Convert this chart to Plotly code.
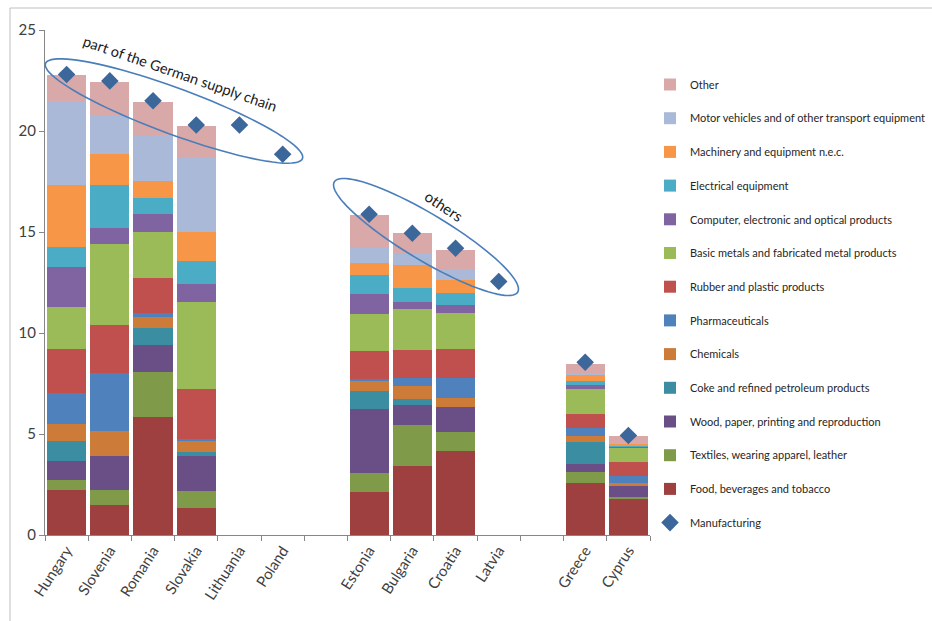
import numpy as np
import plotly.graph_objects as go

categories = ["Hungary", "Slovenia", "Romania", "Slovakia", "Lithuania", "Poland", " ",
              "Estonia", "Bulgaria", "Croatia", "Latvia", "  ", "Greece", "Cyprus"]

N = None
food      = [2.22, 1.47, 5.83, 1.35, N, N, N, 2.11, 3.44, 4.18, N, N, 2.59, 1.83]
textiles  = [0.50, 0.75, 2.26, 0.84, N, N, N, 0.94, 2.03, 0.94, N, N, 0.52, 0.07]
wood      = [0.92, 1.70, 1.32, 1.70, N, N, N, 3.18, 0.95, 1.21, N, N, 0.40, 0.51]
coke      = [1.02, 0.00, 0.85, 0.20, N, N, N, 0.89, 0.30, 0.00, N, N, 1.07, 0.00]
chemicals = [0.86, 1.24, 0.53, 0.57, N, N, N, 0.49, 0.66, 0.47, N, N, 0.30, 0.14]
pharma    = [1.50, 2.88, 0.21, 0.07, N, N, N, 0.10, 0.41, 0.98, N, N, 0.41, 0.35]
rubber    = [2.17, 2.35, 1.70, 2.52, N, N, N, 1.38, 1.37, 1.41, N, N, 0.72, 0.71]
metals    = [2.08, 4.04, 2.30, 4.30, N, N, N, 1.83, 2.03, 1.78, N, N, 1.22, 0.74]
computer  = [2.01, 0.79, 0.89, 0.89, N, N, N, 1.02, 0.36, 0.44, N, N, 0.18, 0.05]
electric  = [0.97, 2.11, 0.81, 1.10, N, N, N, 0.94, 0.70, 0.58, N, N, 0.23, 0.05]
machinery = [3.06, 1.53, 0.82, 1.46, N, N, N, 0.58, 1.11, 0.63, N, N, 0.26, 0.08]
motor     = [4.20, 1.86, 2.26, 3.68, N, N, N, 0.74, 0.57, 0.54, N, N, 0.12, 0.03]
other     = [1.25, 1.71, 1.68, 1.55, N, N, N, 1.64, 1.04, 0.96, N, N, 0.46, 0.33]
manufacturing = [22.8, 22.48, 21.5, 20.3, 20.3, 18.85, N, 15.88, 14.94, 14.2, 12.55, N, 8.55, 4.93]

series = [
    ("Food, beverages and tobacco", food, "#9E4040"),
    ("Textiles, wearing apparel, leather", textiles, "#7F9A48"),
    ("Wood, paper, printing and reproduction", wood, "#6A4F86"),
    ("Coke and refined petroleum products", coke, "#3B8DA2"),
    ("Chemicals", chemicals, "#CC7B38"),
    ("Pharmaceuticals", pharma, "#4F81BD"),
    ("Rubber and plastic products", rubber, "#C0504D"),
    ("Basic metals and fabricated metal products", metals, "#9BBB59"),
    ("Computer, electronic and optical products", computer, "#8064A2"),
    ("Electrical equipment", electric, "#4BACC6"),
    ("Machinery and equipment n.e.c.", machinery, "#F79646"),
    ("Motor vehicles and of other transport equipment", motor, "#A9B9D7"),
    ("Other", other, "#D9A9A9"),
]

FONT = "Lato, Roboto, sans-serif"

fig = go.Figure()
n_series = len(series)
for i, (name, vals, col) in enumerate(series):
    fig.add_trace(go.Bar(x=categories, y=vals, name=name, legendgroup=name,
                         legendrank=n_series - i,
                         marker=dict(color=col, line=dict(width=0))))
fig.add_trace(go.Scatter(x=categories, y=manufacturing, mode="markers", name="Manufacturing",
                         legendgroup="Manufacturing", legendrank=n_series + 1,
                         marker=dict(symbol="diamond", size=13.5, color="#3C679B")))

# plot area geometry in pixels
L, R, T, B = 45, 650, 30, 535
W, H = R - L, B - T

def to_paper(px, py):
    return (np.asarray(px) - L) / W, (B - np.asarray(py)) / H

def ellipse_path(cx, cy, a, b, ang):
    t = np.linspace(0, 2 * np.pi, 90)
    th = np.deg2rad(ang)
    u, v = a * np.cos(t), b * np.sin(t)
    px = cx + u * np.cos(th) - v * np.sin(th)
    py = cy + u * np.sin(th) + v * np.cos(th)
    xs, ys = to_paper(px, py)
    return "M " + " L ".join(f"{x:.5f},{y:.5f}" for x, y in zip(xs, ys)) + " Z"

shapes = [
    dict(type="path", xref="paper", yref="paper", path=ellipse_path(174, 111, 137, 23, 20.3),
         line=dict(color="#4A7EBB", width=1.6)),
    dict(type="path", xref="paper", yref="paper", path=ellipse_path(426, 237, 107, 23, 31),
         line=dict(color="#4A7EBB", width=1.6)),
]
# outer chart frame (top and left edges)
fx0, fy0 = to_paper(10, 8)
fx1, fy1 = to_paper(940, 640)
shapes.append(dict(type="line", xref="paper", yref="paper", x0=fx0, y0=fy0, x1=fx1, y1=fy0,
                   line=dict(color="#BFBFBF", width=1)))
shapes.append(dict(type="line", xref="paper", yref="paper", x0=fx0, y0=fy0, x1=fx0, y1=fy1,
                   line=dict(color="#BFBFBF", width=1)))

ax1, ay1 = to_paper(180, 74)
ax2, ay2 = to_paper(444, 206)
annotations = [
    dict(xref="paper", yref="paper", x=float(ax1), y=float(ay1), text="part of the German supply chain",
         showarrow=False, textangle=19, font=dict(family=FONT, size=14.5, color="#1A1A1A"),
         xanchor="center", yanchor="middle"),
    dict(xref="paper", yref="paper", x=float(ax2), y=float(ay2), text="others",
         showarrow=False, textangle=34, font=dict(family=FONT, size=15, color="#1A1A1A"),
         xanchor="center", yanchor="middle"),
]

lx, ly = to_paper(650, 70)
fig.update_layout(
    width=932, height=621,
    margin=dict(l=L, r=932 - R, t=T, b=621 - B, autoexpand=False),
    paper_bgcolor="white", plot_bgcolor="white",
    barmode="stack", bargap=0.095,
    font=dict(family=FONT, size=13, color="#404040"),
    shapes=shapes, annotations=annotations,
    legend=dict(x=float(lx), y=float(ly), xanchor="left", yanchor="top",
                traceorder="grouped", tracegroupgap=14.7,
                font=dict(family=FONT, size=11, color="#262626"),
                bgcolor="rgba(0,0,0,0)", itemwidth=30),
    xaxis=dict(type="category", categoryorder="array", categoryarray=categories,
               range=[-0.5, len(categories) - 0.5], autorange=False,
               showline=True, linecolor="#868686", linewidth=1,
               ticks="outside", tickson="boundaries", ticklen=5, tickcolor="#868686",
               tickangle=-57, tickfont=dict(family=FONT, size=15, color="#404040"),
               showgrid=False, zeroline=False),
    yaxis=dict(range=[0, 25], dtick=5, showline=True, linecolor="#868686", linewidth=1,
               ticks="outside", ticklen=5, tickcolor="#868686",
               tickfont=dict(family=FONT, size=15, color="#404040"),
               showgrid=False, zeroline=False),
)

fig.write_html("out.html")
